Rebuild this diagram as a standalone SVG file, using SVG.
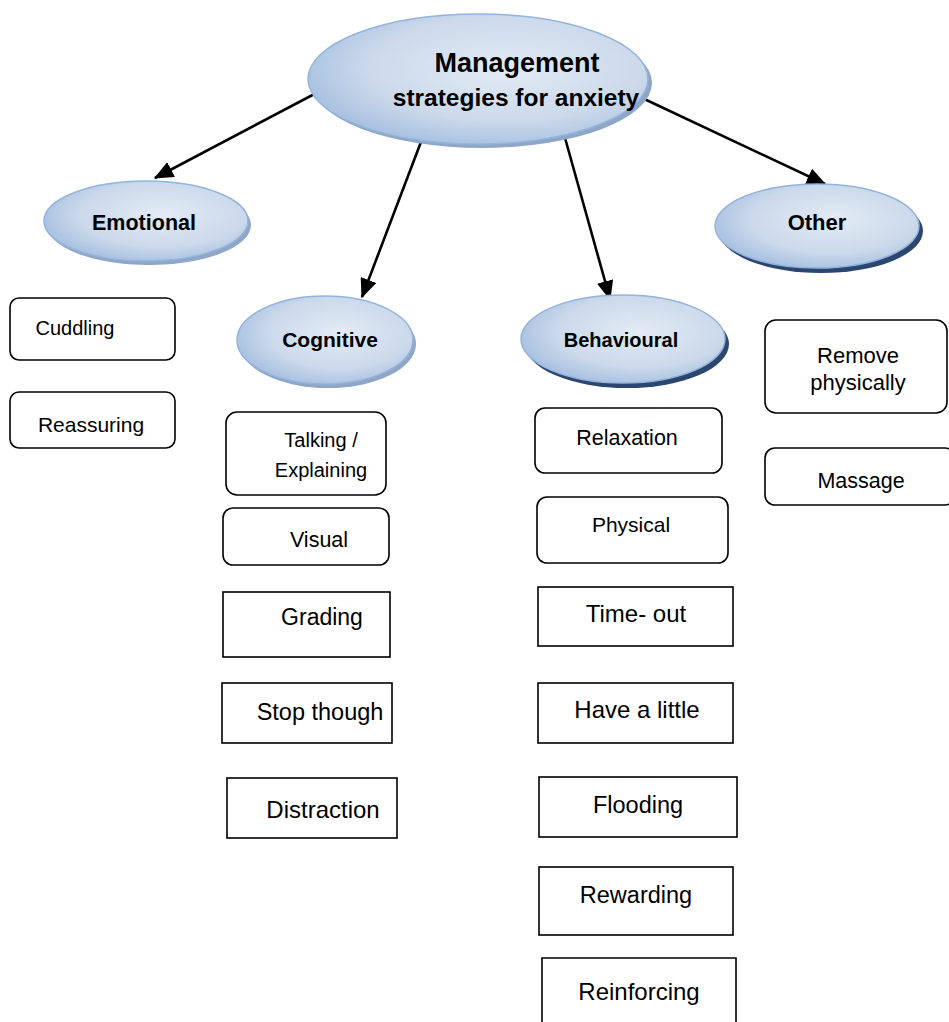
<svg xmlns="http://www.w3.org/2000/svg" width="949" height="1022" viewBox="0 0 949 1022">
<style>
text{font-family:"Liberation Sans",Arial,sans-serif;fill:#000;text-anchor:middle}
.h{font-weight:bold}
.ell{fill:url(#g);stroke:#93b4dc;stroke-width:1.5}
.sh{fill:#8fa6c6}
.shd{fill:#2c4670}
.box{fill:#fff;stroke:#000;stroke-width:1.6}
.con{stroke:#000;stroke-width:2.6;fill:none;marker-end:url(#ah)}
</style>
<defs>
<radialGradient id="g" cx="0.58" cy="0.42" r="0.62">
<stop offset="0" stop-color="#e3ebf5"/>
<stop offset="0.65" stop-color="#cbd9eb"/>
<stop offset="1" stop-color="#a6c0e0"/>
</radialGradient>
<marker id="ah" markerWidth="7.5" markerHeight="6.4" refX="7" refY="3.2" orient="auto" markerUnits="strokeWidth">
<path d="M0,0 L7.5,3.2 L0,6.4 z" fill="#000"/>
</marker>
</defs>
<rect width="949" height="1022" fill="#fff"/>

<g id="connectors">
<line class="con" x1="322" y1="90" x2="155" y2="178"/>
<line class="con" x1="432" y1="113" x2="362" y2="297"/>
<line class="con" x1="560" y1="120" x2="610" y2="299"/>
<line class="con" x1="640" y1="97" x2="825" y2="184"/>
</g>

<g id="main">
<ellipse class="sh" cx="482" cy="83" rx="170" ry="65"/>
<ellipse class="ell" cx="478" cy="79" rx="170" ry="65"/>
<text class="h" x="517" y="72" font-size="27">Management</text>
<text class="h" x="516" y="106" font-size="24.5">strategies for anxiety</text>
</g>

<g id="emotional">
<ellipse class="sh" cx="149" cy="225" rx="102" ry="40"/>
<ellipse class="ell" cx="146" cy="221" rx="102" ry="40"/>
<text class="h" x="144" y="230" font-size="21.5">Emotional</text>
</g>

<g id="other">
<ellipse class="shd" cx="821" cy="231" rx="102" ry="42"/>
<ellipse class="ell" cx="817" cy="226" rx="102" ry="42"/>
<text class="h" x="817" y="230" font-size="22">Other</text>
</g>

<g id="cognitive">
<ellipse class="sh" cx="328" cy="344" rx="88" ry="44"/>
<ellipse class="ell" cx="325" cy="340" rx="88" ry="44"/>
<text class="h" x="330" y="347" font-size="21">Cognitive</text>
</g>

<g id="behavioural">
<ellipse class="shd" cx="627" cy="344" rx="102" ry="44"/>
<ellipse class="ell" cx="623" cy="339" rx="102" ry="44"/>
<text class="h" x="621" y="347" font-size="20">Behavioural</text>
</g>

<g id="cuddling">
<rect class="box" x="10" y="298" width="165" height="62" rx="9"/>
<text x="75" y="335" font-size="20">Cuddling</text>
</g>
<g id="reassuring">
<rect class="box" x="10" y="392" width="165" height="56" rx="9"/>
<text x="91" y="432" font-size="21">Reassuring</text>
</g>

<g id="talking">
<rect class="box" x="226" y="412" width="160" height="83" rx="11"/>
<text x="321" y="447" font-size="20">Talking /</text>
<text x="321" y="477" font-size="20">Explaining</text>
</g>
<g id="visual">
<rect class="box" x="223" y="508" width="166" height="57" rx="10"/>
<text x="319" y="547" font-size="21.5">Visual</text>
</g>
<g id="grading">
<rect class="box" x="223" y="592" width="167" height="65"/>
<text x="322" y="625" font-size="23">Grading</text>
</g>
<g id="stop">
<rect class="box" x="222" y="683" width="170" height="60"/>
<text x="320" y="720" font-size="23.5">Stop though</text>
</g>
<g id="distraction">
<rect class="box" x="227" y="778" width="170" height="60"/>
<text x="323" y="818" font-size="24">Distraction</text>
</g>

<g id="relaxation">
<rect class="box" x="535" y="408" width="187" height="65" rx="10"/>
<text x="627" y="445" font-size="21.5">Relaxation</text>
</g>
<g id="physical">
<rect class="box" x="537" y="497" width="191" height="66" rx="10"/>
<text x="631" y="532" font-size="21">Physical</text>
</g>
<g id="timeout">
<rect class="box" x="538" y="587" width="195" height="59"/>
<text x="636" y="622" font-size="24">Time- out</text>
</g>
<g id="havealittle">
<rect class="box" x="538" y="683" width="195" height="60"/>
<text x="637" y="718" font-size="24">Have a little</text>
</g>
<g id="flooding">
<rect class="box" x="539" y="777" width="198" height="60"/>
<text x="638" y="813" font-size="23.5">Flooding</text>
</g>
<g id="rewarding">
<rect class="box" x="539" y="867" width="194" height="68"/>
<text x="636" y="903" font-size="23.5">Rewarding</text>
</g>
<g id="reinforcing">
<path class="box" d="M542,1022 V958 H736 V1022"/>
<text x="639" y="1000" font-size="24">Reinforcing</text>
</g>

<g id="remove">
<rect class="box" x="765" y="320" width="182" height="93" rx="11"/>
<text x="858" y="363" font-size="22">Remove</text>
<text x="858" y="390" font-size="22">physically</text>
</g>
<g id="massage">
<rect class="box" x="765" y="448" width="190" height="57" rx="10"/>
<text x="861" y="488" font-size="21.5">Massage</text>
</g>
</svg>
